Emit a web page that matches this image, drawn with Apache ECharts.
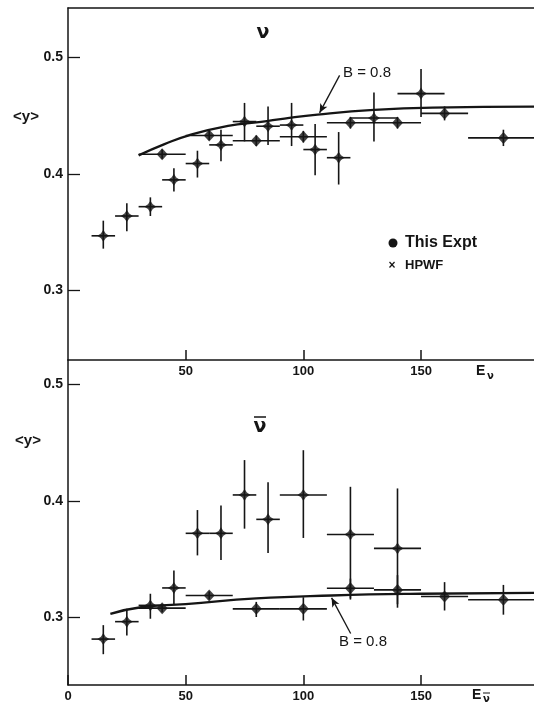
<!DOCTYPE html>
<html><head><meta charset="utf-8">
<script src="https://cdn.jsdelivr.net/npm/echarts@6/dist/echarts.min.js"></script>
<style>html,body{margin:0;padding:0;background:#fff}#c{width:534px;height:703px}</style>
</head><body><div id="c"></div>
<script>
// ---- tick labels ----
const xTicksTop = [50, 100, 150];
const xTicksBottom = [0, 50, 100, 150];
const yTicks = [0.3, 0.4, 0.5];

// ---- top panel (nu) : HPWF ----
const nuHpwfE   = [15, 25, 35, 45, 55, 65, 75, 85, 95, 105, 115, 130, 150];
const nuHpwfY   = [0.347, 0.364, 0.372, 0.395, 0.409, 0.425, 0.445, 0.441, 0.442, 0.421, 0.414, 0.448, 0.469];
const nuHpwfLo  = [0.336, 0.351, 0.364, 0.385, 0.397, 0.411, 0.428, 0.425, 0.424, 0.399, 0.391, 0.428, 0.449];
const nuHpwfHi  = [0.360, 0.375, 0.380, 0.405, 0.420, 0.438, 0.461, 0.458, 0.461, 0.443, 0.436, 0.470, 0.490];
const nuHpwfBin = [5, 5, 5, 5, 5, 5, 5, 5, 5, 5, 5, 10, 10];
// ---- top panel (nu) : This Expt ----
const nuExptE   = [40, 60, 80, 100, 120, 140, 160, 185];
const nuExptY   = [0.417, 0.433, 0.4285, 0.432, 0.444, 0.444, 0.452, 0.431];
const nuExptLo  = [0.413, 0.429, 0.424, 0.427, 0.439, 0.439, 0.446, 0.424];
const nuExptHi  = [0.421, 0.437, 0.433, 0.437, 0.449, 0.449, 0.458, 0.438];
const nuExptBin = [10, 10, 10, 10, 10, 10, 10, 15];
// ---- top panel B = 0.8 curve ----
const nuCurveE = [30, 41, 51, 68, 82, 92, 106, 130, 155, 198];
const nuCurveY = [0.416, 0.4256, 0.433, 0.4413, 0.4447, 0.4476, 0.451, 0.455, 0.457, 0.4578];

// ---- bottom panel (nubar) : HPWF ----
const nubHpwfE   = [15, 25, 35, 45, 55, 65, 75, 85, 100, 120, 140];
const nubHpwfY   = [0.281, 0.296, 0.310, 0.325, 0.372, 0.372, 0.405, 0.384, 0.405, 0.371, 0.359];
const nubHpwfLo  = [0.268, 0.284, 0.2985, 0.311, 0.353, 0.349, 0.376, 0.355, 0.368, 0.316, 0.308];
const nubHpwfHi  = [0.293, 0.307, 0.320, 0.340, 0.392, 0.396, 0.435, 0.416, 0.4435, 0.412, 0.4106];
const nubHpwfBin = [5, 5, 5, 5, 5, 5, 5, 5, 10, 10, 10];
// ---- bottom panel (nubar) : This Expt ----
const nubExptE   = [40, 60, 80, 100, 120, 140, 160, 185];
const nubExptY   = [0.3076, 0.3185, 0.307, 0.307, 0.3247, 0.3233, 0.3176, 0.3148];
const nubExptLo  = [0.304, 0.315, 0.300, 0.297, 0.315, 0.311, 0.3056, 0.302];
const nubExptHi  = [0.311, 0.322, 0.313, 0.317, 0.333, 0.336, 0.330, 0.3276];
const nubExptBin = [10, 10, 10, 10, 10, 10, 10, 15];
// ---- bottom panel B = 0.8 curve ----
const nubCurveE = [18, 31, 50, 80, 112, 150, 198];
const nubCurveY = [0.3027, 0.3084, 0.311, 0.316, 0.3185, 0.320, 0.3208];

const INK = '#151515';
const FONT = '"Liberation Sans", Arial, sans-serif';

function rows(E, Y, Lo, Hi, B) { return E.map((e, i) => [e, Y[i], Lo[i], Hi[i], B[i]]); }
function pts(E, Y) { return E.map((e, i) => [e, Y[i]]); }

function errItem(params, api) {
  const x = api.value(0), y = api.value(1), lo = api.value(2), hi = api.value(3), h = api.value(4);
  const a = api.coord([x - h, y]), b = api.coord([x + h, y]);
  const c = api.coord([x, lo]), d = api.coord([x, hi]);
  const st = { stroke: INK, lineWidth: 1.6 };
  return { type: 'group', children: [
    { type: 'line', shape: { x1: a[0], y1: a[1], x2: b[0], y2: b[1] }, style: st },
    { type: 'line', shape: { x1: c[0], y1: c[1], x2: d[0], y2: d[1] }, style: st }
  ]};
}

const starPath = 'path://M0,-10 L4,-4 L10,0 L4,4 L0,10 L-4,4 L-10,0 L-4,-4 Z';

function xAxisCfg(grid, ticks) {
  return {
    type: 'value', gridIndex: grid, min: 0, max: 198, position: 'bottom',
    axisLine: { show: true, onZero: false, lineStyle: { color: INK, width: 1.5 } },
    axisTick: { show: true, inside: true, length: 10, customValues: ticks, lineStyle: { color: INK, width: 1.5 } },
    axisLabel: { customValues: ticks, color: INK, fontFamily: FONT, fontWeight: 'bold', fontSize: 13, margin: 5 },
    splitLine: { show: false }
  };
}
function yAxisCfg(grid, min, max) {
  return {
    type: 'value', gridIndex: grid, min: min, max: max,
    axisLine: { show: true, onZero: false, lineStyle: { color: INK, width: 1.5 } },
    axisTick: { show: true, inside: true, length: 12, customValues: yTicks, lineStyle: { color: INK, width: 1.3 } },
    axisLabel: { customValues: yTicks, color: INK, fontFamily: FONT, fontWeight: 'bold', fontSize: 14, margin: 5 },
    splitLine: { show: false }
  };
}

const chart = echarts.init(document.getElementById('c'), null, { renderer: 'canvas' });

const arrowLine = (from, to) => ({
  silent: true, symbol: ['none', 'arrow'], symbolSize: [6, 9],
  lineStyle: { color: INK, width: 1.3, type: 'solid' }, label: { show: false },
  data: [[{ coord: from }, { coord: to }]]
});

const option = {
  backgroundColor: '#ffffff',
  animation: false,
  grid: [
    { left: 68, top: 8, width: 466, height: 352 },
    { left: 68, top: 360, width: 466, height: 325 }
  ],
  xAxis: [
    xAxisCfg(0, xTicksTop),
    xAxisCfg(1, xTicksBottom),
    { type: 'value', gridIndex: 0, min: 0, max: 198, position: 'top',
      axisLine: { show: true, onZero: false, lineStyle: { color: INK, width: 1.5 } },
      axisTick: { show: false }, axisLabel: { show: false }, splitLine: { show: false } }
  ],
  yAxis: [ yAxisCfg(0, 0.2405, 0.5424), yAxisCfg(1, 0.2415, 0.5211) ],
  series: [
    // top
    { type: 'line', xAxisIndex: 0, yAxisIndex: 0, data: pts(nuCurveE, nuCurveY), smooth: true,
      symbol: 'none', lineStyle: { color: INK, width: 2.3 },
      markLine: arrowLine([115.4, 0.4846], [106.9, 0.4525]) },
    { type: 'custom', xAxisIndex: 0, yAxisIndex: 0, renderItem: errItem, clip: true,
      encode: { x: 0, y: 1 }, data: rows(nuHpwfE, nuHpwfY, nuHpwfLo, nuHpwfHi, nuHpwfBin) },
    { type: 'custom', xAxisIndex: 0, yAxisIndex: 0, renderItem: errItem, clip: true,
      encode: { x: 0, y: 1 }, data: rows(nuExptE, nuExptY, nuExptLo, nuExptHi, nuExptBin) },
    { type: 'scatter', xAxisIndex: 0, yAxisIndex: 0, data: pts(nuHpwfE, nuHpwfY), symbol: starPath,
      symbolSize: 12, itemStyle: { color: INK } },
    { type: 'scatter', xAxisIndex: 0, yAxisIndex: 0, data: pts(nuExptE, nuExptY), symbol: 'diamond',
      symbolSize: [11, 12], itemStyle: { color: INK } },
    // bottom
    { type: 'line', xAxisIndex: 1, yAxisIndex: 1, data: pts(nubCurveE, nubCurveY), smooth: true,
      symbol: 'none', lineStyle: { color: INK, width: 2.3 },
      markLine: arrowLine([120.1, 0.2858], [112, 0.3165]) },
    { type: 'custom', xAxisIndex: 1, yAxisIndex: 1, renderItem: errItem, clip: true,
      encode: { x: 0, y: 1 }, data: rows(nubHpwfE, nubHpwfY, nubHpwfLo, nubHpwfHi, nubHpwfBin) },
    { type: 'custom', xAxisIndex: 1, yAxisIndex: 1, renderItem: errItem, clip: true,
      encode: { x: 0, y: 1 }, data: rows(nubExptE, nubExptY, nubExptLo, nubExptHi, nubExptBin) },
    { type: 'scatter', xAxisIndex: 1, yAxisIndex: 1, data: pts(nubHpwfE, nubHpwfY), symbol: starPath,
      symbolSize: 12, itemStyle: { color: INK } },
    { type: 'scatter', xAxisIndex: 1, yAxisIndex: 1, data: pts(nubExptE, nubExptY), symbol: 'diamond',
      symbolSize: [11, 12], itemStyle: { color: INK } }
  ],
  graphic: [
    // y-axis names
    { type: 'text', x: 26, y: 117, style: { text: '<y>', font: 'bold 15px ' + FONT, fill: INK, textAlign: 'center', textVerticalAlign: 'middle' } },
    { type: 'text', x: 28, y: 441, style: { text: '<y>', font: 'bold 15px ' + FONT, fill: INK, textAlign: 'center', textVerticalAlign: 'middle' } },
    // x-axis names
    { type: 'text', x: 476, y: 371, style: { text: 'E', font: 'bold 14px ' + FONT, fill: INK, textAlign: 'left', textVerticalAlign: 'middle' } },
    { type: 'text', x: 487, y: 376, style: { text: 'ν', font: 'bold 10px "DejaVu Sans", sans-serif', fill: INK, textAlign: 'left', textVerticalAlign: 'middle' } },
    { type: 'text', x: 472, y: 695, style: { text: 'E', font: 'bold 14px ' + FONT, fill: INK, textAlign: 'left', textVerticalAlign: 'middle' } },
    { type: 'text', x: 483, y: 699, style: { text: 'ν', font: 'bold 10px "DejaVu Sans", sans-serif', fill: INK, textAlign: 'left', textVerticalAlign: 'middle' } },
    { type: 'line', shape: { x1: 483, y1: 693, x2: 490, y2: 693 }, style: { stroke: INK, lineWidth: 1 } },
    // panel titles
    { type: 'text', x: 263, y: 33, style: { text: 'ν', font: 'bold 19px "DejaVu Sans", sans-serif', fill: INK, textAlign: 'center', textVerticalAlign: 'middle' } },
    { type: 'text', x: 260, y: 427, style: { text: 'ν', font: 'bold 19px "DejaVu Sans", sans-serif', fill: INK, textAlign: 'center', textVerticalAlign: 'middle' } },
    { type: 'line', shape: { x1: 254, y1: 417, x2: 266, y2: 417 }, style: { stroke: INK, lineWidth: 1.5 } },
    // B = 0.8 labels
    { type: 'text', x: 367, y: 73, style: { text: 'B = 0.8', font: '15px ' + FONT, fill: INK, textAlign: 'center', textVerticalAlign: 'middle' } },
    { type: 'text', x: 363, y: 642, style: { text: 'B = 0.8', font: '15px ' + FONT, fill: INK, textAlign: 'center', textVerticalAlign: 'middle' } },
    // legend
    { type: 'circle', shape: { cx: 393, cy: 243, r: 4.5 }, style: { fill: INK } },
    { type: 'text', x: 405, y: 243, style: { text: 'This Expt', font: 'bold 16px ' + FONT, fill: INK, textAlign: 'left', textVerticalAlign: 'middle' } },
    { type: 'text', x: 392, y: 266, style: { text: '×', font: 'bold 12px ' + FONT, fill: INK, textAlign: 'center', textVerticalAlign: 'middle' } },
    { type: 'text', x: 405, y: 265, style: { text: 'HPWF', font: 'bold 13px ' + FONT, fill: INK, textAlign: 'left', textVerticalAlign: 'middle' } }
  ]
};
chart.setOption(option);
</script>
</body></html>
